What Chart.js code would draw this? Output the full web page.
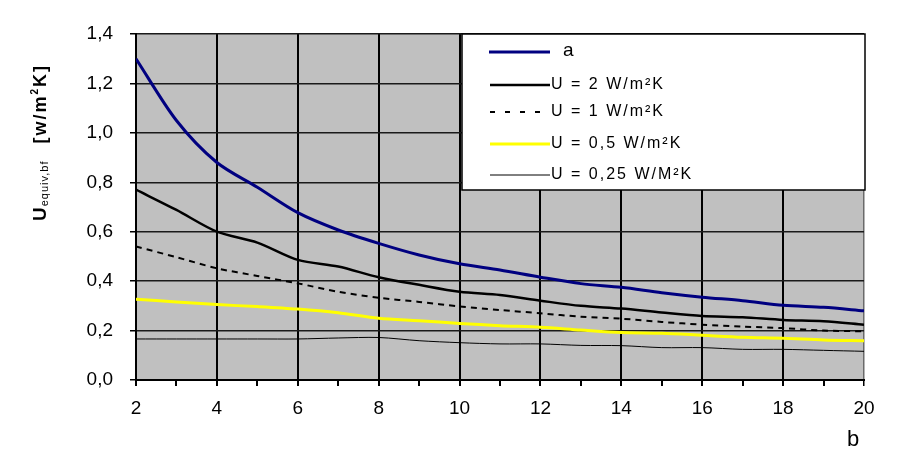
<!DOCTYPE html>
<html>
<head>
<meta charset="utf-8">
<script src="https://cdn.jsdelivr.net/npm/chart.js@4"></script>
<style>
  html, body { margin: 0; padding: 0; background: #fff; }
  #wrap { width: 906px; height: 473px; position: relative; }
</style>
</head>
<body>
<div id="wrap"><canvas id="c" width="906" height="473"></canvas></div>
<script>
// ---- data ----
const bValues = [2, 3, 4, 5, 6, 7, 8, 9, 10, 11, 12, 13, 14, 15, 16, 17, 18, 19, 20];
const seriesA     = [1.30, 1.05, 0.88, 0.78, 0.677, 0.607, 0.553, 0.506, 0.47, 0.445, 0.416, 0.39, 0.375, 0.353, 0.335, 0.321, 0.302, 0.294, 0.28];
const seriesU2    = [0.77, 0.688, 0.60, 0.556, 0.486, 0.459, 0.416, 0.385, 0.357, 0.344, 0.321, 0.30, 0.289, 0.273, 0.259, 0.254, 0.243, 0.238, 0.224];
const seriesU1    = [0.54, 0.497, 0.452, 0.421, 0.391, 0.357, 0.333, 0.316, 0.298, 0.283, 0.27, 0.256, 0.248, 0.235, 0.224, 0.216, 0.21, 0.20, 0.197];
const seriesU05   = [0.327, 0.316, 0.305, 0.297, 0.287, 0.272, 0.25, 0.24, 0.229, 0.22, 0.213, 0.202, 0.192, 0.189, 0.181, 0.173, 0.169, 0.162, 0.159];
const seriesU025  = [0.166, 0.166, 0.166, 0.166, 0.166, 0.17, 0.172, 0.159, 0.151, 0.146, 0.146, 0.14, 0.139, 0.131, 0.131, 0.124, 0.124, 0.12, 0.116];
const seriesLabels = ['a', 'U = 2 W/m²K', 'U = 1 W/m²K', 'U = 0,5 W/m²K', 'U = 0,25 W/M²K'];
const xTickLabels = ['2', '4', '6', '8', '10', '12', '14', '16', '18', '20'];
const yTickLabels = ['0,0', '0,2', '0,4', '0,6', '0,8', '1,0', '1,2', '1,4'];
const xTitle = 'b';

const toPts = arr => arr.map((v, i) => ({ x: bValues[i], y: v }));
const FONT = "'Liberation Sans', Arial, sans-serif";

const plotBg = {
  id: 'plotBg',
  beforeDraw(chart) {
    const { ctx, chartArea: a } = chart;
    ctx.save();
    ctx.fillStyle = '#c0c0c0';
    ctx.fillRect(a.left, a.top, a.right - a.left, a.bottom - a.top);
    ctx.restore();
  }
};

const extras = {
  id: 'extras',
  afterDraw(chart) {
    const { ctx } = chart;
    ctx.save();
    // legend box
    const L = 462, T = 34, R = 865, B = 190;
    ctx.fillStyle = '#fff';
    ctx.fillRect(L, T, R - L, B - T);
    ctx.strokeStyle = '#000';
    ctx.lineWidth = 1.5;
    ctx.strokeRect(L, T, R - L, B - T);
    const rows = [52, 85, 112, 144, 175];
    chart.data.datasets.forEach((ds, i) => {
      const y = rows[i];
      ctx.beginPath();
      ctx.strokeStyle = ds.borderColor;
      ctx.lineWidth = ds.borderWidth;
      ctx.setLineDash(i === 2 ? [5, 10] : []);
      ctx.moveTo(i === 0 ? 489 : 490, y);
      ctx.lineTo(550, y);
      ctx.stroke();
      ctx.setLineDash([]);
      ctx.fillStyle = '#000';
      ctx.textBaseline = 'middle';
      ctx.textAlign = 'left';
      if (i === 0) {
        ctx.letterSpacing = '0px';
        ctx.font = '19px ' + FONT;
        ctx.fillText(ds.label, 563, y - 1);
      } else {
        ctx.letterSpacing = '2px';
        ctx.font = '16px ' + FONT;
        ctx.fillText(ds.label, 551, y);
      }
    });
    ctx.letterSpacing = '0px';
    // y axis title (rotated)
    ctx.translate(38, 221);
    ctx.rotate(-Math.PI / 2);
    ctx.textBaseline = 'alphabetic';
    ctx.textAlign = 'left';
    ctx.fillStyle = '#000';
    let x = 0;
    const base = 8;
    ctx.font = 'bold 19px ' + FONT;
    ctx.fillText('U', x, base); x += ctx.measureText('U').width + 1;
    ctx.font = '11px ' + FONT;
    ctx.letterSpacing = '1px';
    ctx.fillText('equiv,bf', x, base + 2); x += ctx.measureText('equiv,bf').width + 17;
    ctx.letterSpacing = '2px';
    ctx.font = 'bold 18px ' + FONT;
    ctx.fillText('[w/m', x, base); x += ctx.measureText('[w/m').width;
    ctx.font = 'bold 10px ' + FONT;
    ctx.fillText('2', x, base - 8); x += ctx.measureText('2').width;
    ctx.font = 'bold 18px ' + FONT;
    ctx.fillText('K]', x, base);
    ctx.restore();
    // x axis title
    ctx.save();
    ctx.font = '22px ' + FONT;
    ctx.fillStyle = '#000';
    ctx.textAlign = 'center';
    ctx.textBaseline = 'middle';
    ctx.fillText(xTitle, 853, 440);
    ctx.restore();
  }
};

new Chart(document.getElementById('c'), {
  type: 'line',
  data: {
    datasets: [
      { label: seriesLabels[0], data: toPts(seriesA),    borderColor: '#000080', borderWidth: 3,   tension: 0.3 },
      { label: seriesLabels[1], data: toPts(seriesU2),   borderColor: '#000000', borderWidth: 2.5, tension: 0.3 },
      { label: seriesLabels[2], data: toPts(seriesU1),   borderColor: '#000000', borderWidth: 2,   borderDash: [6, 5], tension: 0.3 },
      { label: seriesLabels[3], data: toPts(seriesU05),  borderColor: '#ffff00', borderWidth: 3,   tension: 0.3 },
      { label: seriesLabels[4], data: toPts(seriesU025), borderColor: '#000000', borderWidth: 1,   tension: 0.3 }
    ]
  },
  options: {
    responsive: false,
    animation: false,
    devicePixelRatio: 1,
    layout: { padding: { left: 0, top: 34, right: 42, bottom: 0 } },
    elements: { point: { radius: 0 } },
    plugins: { legend: { display: false }, tooltip: { enabled: false } },
    scales: {
      x: {
        type: 'linear', min: 2, max: 20,
        afterFit(s) { s.height = 93; },
        afterBuildTicks(s) { s.ticks = bValues.map(v => ({ value: v })); },
        ticks: {
          autoSkip: false, maxRotation: 0, padding: 11,
          color: '#000', font: { size: 19, family: FONT },
          callback(v) { const t = xTickLabels.indexOf(String(v)); return t >= 0 ? xTickLabels[t] : ''; }
        },
        grid: {
          tickLength: 6,
          tickColor: '#000',
          color(c) { const v = c.tick && c.tick.value; if (v === 20) return '#6a6a6a'; return (v % 2 === 0) ? '#000' : 'rgba(0,0,0,0)'; },
          lineWidth(c) { const v = c.tick && c.tick.value; return v === 20 ? 1.5 : 2; }
        },
        border: { display: true, color: '#000', width: 2 }
      },
      y: {
        min: 0, max: 1.4,
        afterFit(s) { s.width = 136; },
        afterBuildTicks(s) { const t = []; for (let i = 0; i <= 14; i++) t.push({ value: i / 10 }); s.ticks = t; },
        ticks: {
          padding: 17, color: '#000', font: { size: 19, family: FONT },
          callback(v) { const k = Math.round(v * 10); return k % 2 === 0 ? yTickLabels[k / 2] : ''; }
        },
        grid: {
          tickLength: 6,
          tickColor: '#000',
          color(c) { const k = Math.round((c.tick ? c.tick.value : 0) * 10); return k % 2 === 0 ? '#1a1a1a' : 'rgba(0,0,0,0)'; },
          lineWidth: 1.5
        },
        border: { display: true, color: '#000', width: 2 }
      }
    }
  },
  plugins: [plotBg, extras]
});
</script>
</body>
</html>
